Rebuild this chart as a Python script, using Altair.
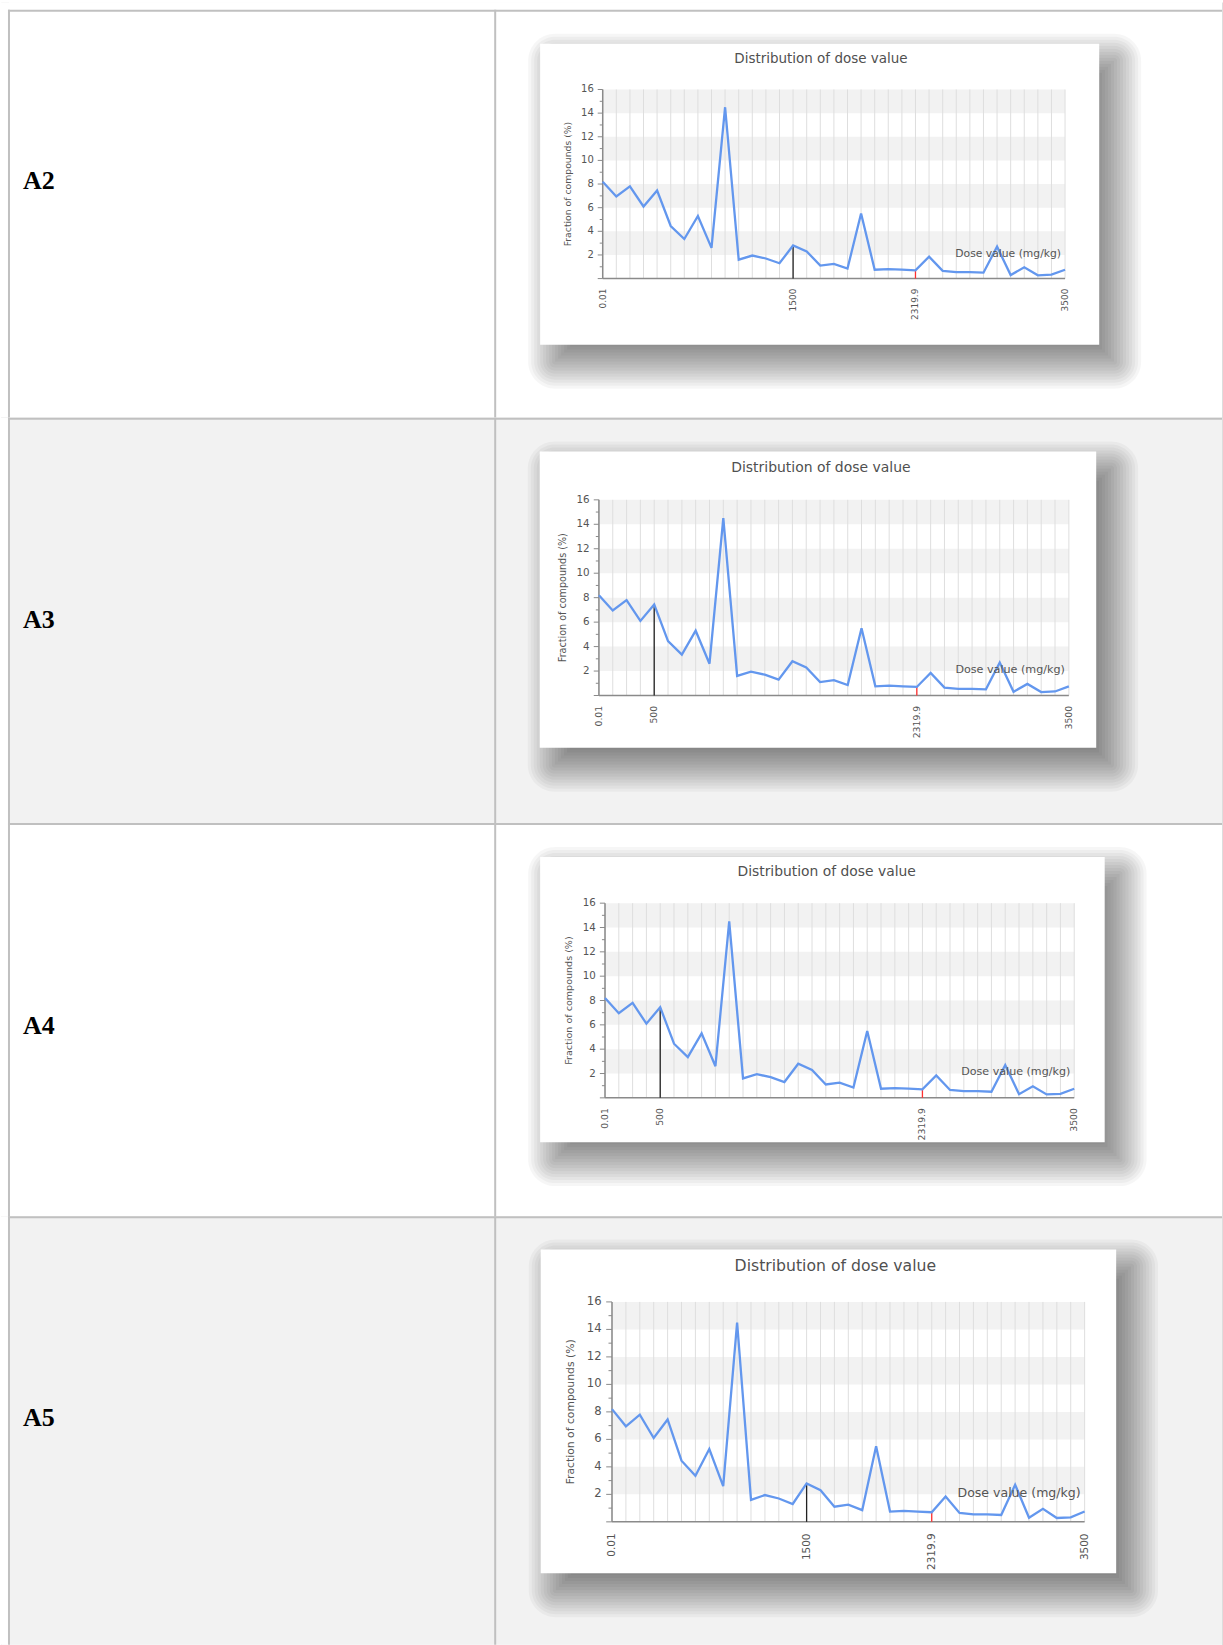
import altair as alt
import pandas as pd

# ---------------- data ----------------
fraction = [8.2, 6.95, 7.8, 6.1, 7.45, 4.45, 3.35, 5.3, 2.6, 14.5,
            1.6, 1.95, 1.7, 1.3, 2.8, 2.3, 1.1, 1.25, 0.85, 5.5,
            0.75, 0.8, 0.75, 0.7, 1.85, 0.65, 0.55, 0.55, 0.5, 2.7,
            0.3, 0.95, 0.28, 0.33, 0.75]
bin_index = list(range(len(fraction)))
panel_names = ["A2", "A3", "A4", "A5"]
marked_label = ["1500", "500", "500", "1500"]
marked_bin = [14, 4, 4, 14]
fixed_labels = ["0.01", "2319.9", "3500"]
fixed_bins = [0, 23, 34]
red_bin = 23
y_major = [0, 2, 4, 6, 8, 10, 12, 14, 16]
y_major_labels = [2, 4, 6, 8, 10, 12, 14, 16]
y_minor = [1, 3, 5, 7, 9, 11, 13, 15]
band_lo = [2, 6, 10, 14]
band_hi = [4, 8, 12, 16]
chart_title = "Distribution of dose value"
y_title = "Fraction of compounds (%)"
x_title = "Dose value (mg/kg)"

# ---------------- page layout (pixels) ----------------
W, H = 1223, 1645
FONT = "DejaVu Sans"
row_tops = [0, 416, 822, 1216]
row_bottoms = [416, 822, 1216, H]
row_fill = ["white", "#f2f2f2", "white", "#f2f2f2"]
layouts = [
    dict(box=(540, 41.5, 1100, 343), plot=(602.7, 87.3, 1065.8, 276.7), label_y=179, title_dy=-30.6),
    dict(box=(539.6, 450, 1097, 746.7), plot=(598.9, 498.3, 1069.6, 694.3), label_y=619, title_dy=-31.6),
    dict(box=(540, 856, 1105.5, 1141.7), plot=(605, 902.3, 1075, 1097.3), label_y=1025, title_dy=-31.3),
    dict(box=(540.6, 1249.3, 1117, 1573.5), plot=(612, 1301.7, 1085.4, 1522), label_y=1418, title_dy=-36),
]
one = pd.DataFrame({"a": [1]})
line_df = pd.DataFrame({"i": bin_index, "v": fraction})
band_df = pd.DataFrame({"lo": band_lo, "hi": band_hi})
major_df = pd.DataFrame({"t": y_major})
minor_df = pd.DataFrame({"t": y_minor})
ylab_df = pd.DataFrame({"t": y_major_labels, "s": [str(v) for v in y_major_labels]})


def vrect(x0, y0, x1, y1, color, opacity=1.0, radius=0):
    mk = dict(color=color, opacity=opacity)
    if radius > 0:
        mk["cornerRadius"] = radius
    return alt.Chart(one).mark_rect(**mk).encode(
        x=alt.value(x0), x2=alt.value(x1), y=alt.value(y0), y2=alt.value(y1))


def row(k):
    L = layouts[k]
    top = row_tops[k]
    rh = row_bottoms[k] - top
    px0, gy0, px1, gy1 = L["plot"]
    py0, py1 = gy0 - top, gy1 - top
    bx0, by0, bx1, by1 = L["box"]
    by0 -= top
    by1 -= top
    s = (py1 - py0) / 189.4

    # scale domains chosen so that bins 0..34 and 0..16 % land on the plot rectangle
    ux = 34.0 / (px1 - px0)
    xlo = -px0 * ux
    xs = alt.Scale(domain=[xlo, xlo + W * ux], nice=False, zero=False)
    uy = 16.0 / (py1 - py0)
    ylo = -(rh - py1) * uy
    ys = alt.Scale(domain=[ylo, ylo + rh * uy], nice=False, zero=False)

    def X(f):
        return alt.X(f, type="quantitative", scale=xs, axis=None)

    def Y(f):
        return alt.Y(f, type="quantitative", scale=ys, axis=None)

    layers = []
    # ---- table cell decoration ----
    layers.append(vrect(0, 0, W, rh, "white"))
    layers.append(vrect(8, 0, W, rh, row_fill[k]))
    sx, sy = 15, 17
    for e in range(-27, 28, 3):
        layers.append(vrect(bx0 + sx - e, by0 + sy - e, bx1 + sx + e, by1 + sy + e,
                            "black", 0.036, max(e, 0)))
    layers.append(vrect(bx0, by0, bx1, by1, "white"))
    bc = "#c0c0c0"
    if k == 0:
        layers.append(vrect(7, 7.3, W, 9.3, bc))
    else:
        layers.append(vrect(7, 0, W, 2, bc))
    for xl in [8, 495]:
        layers.append(vrect(xl - 1, 7.3 if k == 0 else 0, xl + 1, rh, bc))
    layers.append(alt.Chart(one).mark_text(font="Liberation Serif", fontWeight="bold", fontSize=26,
                                           align="left", baseline="middle", color="black").encode(
        x=alt.value(22), y=alt.value(L["label_y"] - top), text=alt.value(panel_names[k])))

    # ---- chart ----
    layers.append(alt.Chart(band_df).transform_calculate(a="0", b="34").mark_rect(color="#f2f2f2").encode(
        x=X("a"), x2=alt.X2("b"), y=Y("lo"), y2=alt.Y2("hi")))
    layers.append(alt.Chart(line_df).transform_calculate(lo="0", hi="16").mark_rule(
        color="#dedede", strokeWidth=1).encode(x=X("i"), y=Y("lo"), y2=alt.Y2("hi")))
    axis_color = "#8a8a8a"
    layers.append(alt.Chart(one).transform_calculate(a="0", b="34", z="0").mark_rule(
        color=axis_color, strokeWidth=1.5).encode(x=X("a"), x2=alt.X2("b"), y=Y("z")))
    layers.append(alt.Chart(one).transform_calculate(a="0", z="0", h="16").mark_rule(
        color=axis_color, strokeWidth=1.5).encode(x=X("a"), y=Y("z"), y2=alt.Y2("h")))
    layers.append(alt.Chart(major_df).transform_calculate(z="0").mark_rule(
        color=axis_color, strokeWidth=1, xOffset=-5 * s).encode(x=X("z"), x2=alt.X2("z"), y=Y("t")))
    layers.append(alt.Chart(minor_df).transform_calculate(z="0").mark_rule(
        color=axis_color, strokeWidth=1, xOffset=-3 * s).encode(x=X("z"), x2=alt.X2("z"), y=Y("t")))
    layers.append(alt.Chart(ylab_df).transform_calculate(z="0").mark_text(
        font=FONT, fontSize=10 * s, color="#555555", align="right", baseline="middle", dx=-9 * s).encode(
        x=X("z"), y=Y("t"), text="s:N"))
    mb = marked_bin[k]
    mk_df = pd.DataFrame({"b": [mb], "v": [fraction[mb]]})
    red_df = pd.DataFrame({"b": [red_bin], "v": [fraction[red_bin]]})
    layers.append(alt.Chart(mk_df).transform_calculate(z="0").mark_rule(
        color="#222222", strokeWidth=1.3).encode(x=X("b"), y=Y("z"), y2=alt.Y2("v")))
    layers.append(alt.Chart(red_df).transform_calculate(z="0").mark_rule(
        color="#ff3030", strokeWidth=1.3).encode(x=X("b"), y=Y("z"), y2=alt.Y2("v")))
    layers.append(alt.Chart(line_df).mark_line(color="#6397ee", strokeWidth=2.3).encode(
        x=X("i"), y=Y("v")))
    xl_df = pd.DataFrame({"b": [fixed_bins[0], mb] + fixed_bins[1:],
                          "s": [fixed_labels[0], marked_label[k]] + fixed_labels[1:]})
    layers.append(alt.Chart(xl_df).transform_calculate(z="0").mark_text(
        font=FONT, fontSize=9 * s, color="#555555", angle=270,
        align="right", baseline="middle", yOffset=10 * s).encode(x=X("b"), y=Y("z"), text="s:N"))
    layers.append(alt.Chart(one).transform_calculate(px="34", py="2.12").mark_text(
        font=FONT, fontSize=10.8 * s, color="#555555", align="right", baseline="middle", dx=-4).encode(
        x=X("px"), y=Y("py"), text=alt.value(x_title)))
    layers.append(alt.Chart(one).transform_calculate(px="17", py="16").mark_text(
        font=FONT, fontSize=13.5 * s, color="#505050", align="center", baseline="middle",
        xOffset=-13, yOffset=L["title_dy"]).encode(x=X("px"), y=Y("py"), text=alt.value(chart_title)))
    layers.append(alt.Chart(one).transform_calculate(px="0", py="8").mark_text(
        font=FONT, fontSize=9.3 * s, color="#555555", angle=270, align="center", baseline="middle",
        xOffset=-35 * s).encode(x=X("px"), y=Y("py"), text=alt.value(y_title)))
    return alt.layer(*layers).properties(width=W, height=rh)


chart = alt.vconcat(*[row(k) for k in range(4)], spacing=0, bounds="flush").properties(
    padding=0
).configure_view(strokeWidth=0).configure(background="white")

chart.save("out.html", embed_options={"renderer": "svg", "actions": False})
